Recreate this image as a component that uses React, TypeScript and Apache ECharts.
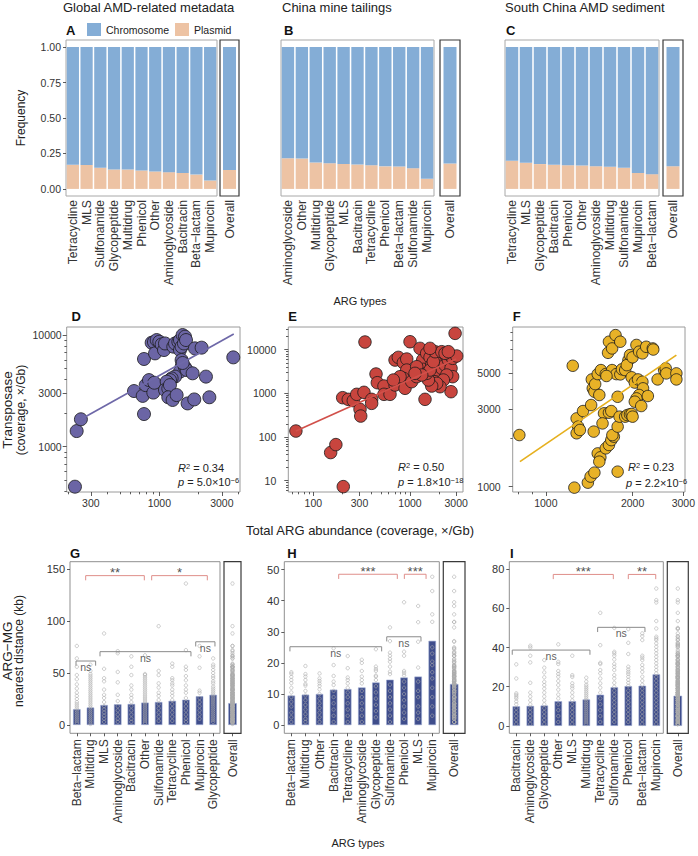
import React, { useEffect, useRef } from 'react';
import * as echarts from 'echarts';

const FONT = 'Liberation Sans, Arial, Helvetica, sans-serif';
const BLUE = '#84ADD6';
const PINK = '#EDC3A4';
const NAVY = '#3F4D8B';
const MINUS = '\u2212';

// ---------- Top row: fraction of ARGs on plasmids ----------
const FREQ_TICKS = [0, 0.25, 0.5, 0.75, 1];
const A_CATS = ['Tetracycline', 'MLS', 'Sulfonamide', 'Glycopeptide', 'Multidrug', 'Phenicol', 'Other', 'Aminoglycoside', 'Bacitracin', 'Beta' + MINUS + 'lactam', 'Mupirocin'];
const A_PLASMID = [0.170, 0.169, 0.149, 0.137, 0.137, 0.130, 0.123, 0.118, 0.113, 0.101, 0.059];
const A_OVERALL = 0.134;
const B_CATS = ['Aminoglycoside', 'Other', 'Multidrug', 'Glycopeptide', 'MLS', 'Bacitracin', 'Tetracycline', 'Phenicol', 'Beta' + MINUS + 'lactam', 'Sulfonamide', 'Mupirocin'];
const B_PLASMID = [0.216, 0.214, 0.186, 0.181, 0.176, 0.172, 0.167, 0.159, 0.158, 0.146, 0.071];
const B_OVERALL = 0.179;
const C_CATS = ['Tetracycline', 'MLS', 'Glycopeptide', 'Bacitracin', 'Phenicol', 'Other', 'Aminoglycoside', 'Multidrug', 'Sulfonamide', 'Mupirocin', 'Beta' + MINUS + 'lactam'];
const C_PLASMID = [0.198, 0.184, 0.175, 0.170, 0.167, 0.165, 0.160, 0.156, 0.149, 0.113, 0.104];
const C_OVERALL = 0.160;

// ---------- Middle row: transposase vs total ARG abundance ----------
const D_X_TICKS = [300, 1000, 3000];
const D_Y_TICKS = [1000, 3000, 10000];
const D_POINTS = [[227, 438], [234, 1380], [252, 1760], [764, 6100], [641, 3150], [747, 2850], [764, 1960], [787, 3560], [834, 3950], [900, 3050], [916, 3740], [874, 8530], [910, 8650], [955, 9020], [927, 6850], [1000, 8710], [1042, 8240], [1086, 7340], [1105, 8410], [1279, 7870], [1318, 8410], [1397, 8710], [1438, 9020], [1507, 10000], [1571, 9660], [1438, 7340], [1480, 7870], [1542, 8410], [1599, 9020], [1480, 5970], [1480, 5200], [1438, 4700], [1571, 5130], [1318, 4240], [1242, 4090], [1206, 3950], [1171, 3690], [1138, 3820], [1105, 3220], [1171, 3320], [1206, 3560], [1171, 2770], [1264, 2620], [1356, 2900], [1618, 4860], [1796, 4540], [1871, 7600], [2104, 7710], [1644, 2440], [1849, 2650], [2270, 4240], [2410, 2770], [3670, 6310], [1507, 5620]];
const D_FIT = [[252, 1760], [3700, 10200]];
const E_X_TICKS = [100, 300, 1000, 3000];
const E_Y_TICKS = [10, 100, 1000, 10000];
const E_POINTS = [[66, 137], [151, 44], [171, 67], [204, 7.3], [342, 15000], [201, 795], [230, 729], [259, 680], [281, 950], [304, 430], [309, 302], [334, 1054], [401, 729], [401, 590], [445, 2775], [459, 1753], [538, 1472], [538, 949], [621, 949], [700, 1553], [700, 5800], [757, 6670], [853, 5040], [925, 6110], [925, 3420], [853, 2210], [888, 1303], [1000, 15230], [1040, 1850], [1172, 2410], [1269, 10720], [1429, 729], [1352, 5800], [1374, 3545], [1487, 8240], [1610, 6670], [1675, 4460], [1743, 3135], [1771, 2410], [1815, 1850], [1888, 5800], [1964, 7550], [2043, 4860], [2127, 3740], [2212, 6340], [2302, 4460], [2395, 6920], [2492, 5800], [2593, 7550], [2655, 3740], [2761, 6340], [3039, 7170], [2925, 23660], [2761, 2410], [2655, 1092], [2395, 2630], [2212, 2020], [2043, 1421], [1888, 1694], [1675, 1472], [1550, 2020], [1487, 2870], [1610, 3420], [1743, 5310], [1815, 9000], [2127, 9000], [2302, 8240], [2492, 9000], [1610, 10720], [1172, 4080], [1321, 2630], [1126, 2870], [788, 2410], [673, 2020]];
const E_FIT = [[66, 137], [3000, 6100]];
const F_X_TICKS = [1000, 2000, 3000];
const F_Y_TICKS = [1000, 3000, 5000];
const F_POINTS = [[809, 2080], [1240, 5560], [1256, 986], [1279, 2635], [1295, 2343], [1279, 2133], [1313, 2235], [1346, 2924], [1399, 1058], [1430, 1153], [1474, 1220], [1436, 3185], [1444, 4580], [1455, 4035], [1474, 3848], [1483, 4286], [1533, 3672], [1466, 2184], [1514, 1603], [1546, 1516], [1533, 1426], [1514, 4940], [1553, 5230], [1614, 4940], [1614, 1722], [1656, 1806], [1687, 1936], [1722, 2032], [1702, 2080], [1592, 2830], [1573, 2454], [1656, 2857], [1687, 2924], [1656, 7820], [1644, 6680], [1698, 7110], [1745, 8590], [1813, 7820], [1698, 5230], [1757, 4940], [1813, 4920], [1837, 5290], [1885, 5230], [1775, 3580], [1775, 2343], [1775, 1237], [1802, 2700], [1885, 2700], [1918, 2762], [1959, 2790], [1985, 2806], [1935, 6024], [1959, 6470], [1910, 5610], [1985, 4720], [2000, 6270], [2063, 7470], [2107, 6790], [2163, 6630], [2230, 7280], [2350, 7110], [2360, 7000], [2036, 4380], [2089, 4580], [2163, 4430], [2174, 4035], [2107, 3672], [2063, 3500], [2036, 3340], [2143, 3140], [2260, 3620], [2443, 4580], [2573, 5230], [2606, 5360], [2618, 4990], [2838, 4990], [2838, 4580], [1623, 4810], [2000, 2700]];
const F_FIT = [[813, 1426], [2838, 6470]];

// ---------- Bottom row: ARG–MG nearest distance ----------
const G_CATS = ['Beta' + MINUS + 'lactam', 'Multidrug', 'MLS', 'Aminoglycoside', 'Bacitracin', 'Other', 'Sulfonamide', 'Tetracycline', 'Phenicol', 'Mupirocin', 'Glycopeptide'];
const G_BARS = [15.2, 16.8, 19.2, 19.9, 20.2, 21.5, 22.1, 23.2, 24.3, 27.7, 29.0];
const G_OVERALL_BAR = 21.0;
const G_TICKS = [0, 50, 100, 150];
const G_POINTS = [
  [76, 64, 56, 48, 44, 39, 35, 31, 28, 25, 22, 20, 18, 16, 14, 12, 10, 8, 6, 4, 2],
  [58, 52, 49, 47, 45, 43, 41, 39, 37, 35, 33, 31, 29, 27, 25, 23, 21, 19, 17, 15, 13, 11, 9, 7, 5, 3, 1],
  [88, 54, 45, 42, 34, 29, 26, 22, 18, 15, 12, 9, 6, 3],
  [71, 69, 51, 41, 29, 23, 18, 14, 10, 6, 3],
  [66, 56, 48, 38, 34, 29, 26, 22, 18, 14, 10, 6, 3],
  [67, 49, 48, 46, 44, 42, 40, 38, 36, 34, 32, 30, 28, 26, 24, 22, 20, 18, 16, 14, 12, 10, 8, 6, 4, 2],
  [95, 52, 48, 40, 36, 31, 28, 24, 20, 16, 12, 8, 4],
  [59, 56, 45, 43, 40, 38, 34, 31, 28, 24, 20, 16, 12, 8, 4],
  [136, 72, 56, 53, 47, 43, 38, 34, 31, 26, 22, 18, 14, 10, 6, 3],
  [76, 66, 55, 33, 31, 26, 22, 18, 14, 10, 6],
  [64, 58, 56, 53, 50, 47, 45, 42, 40, 37, 35, 33, 31, 29, 27, 25, 23, 21, 19, 17, 15, 13, 11, 9, 7, 5, 3],
];
// [from index, to index, height, label]
const G_BRACKETS: [number, number, number, string][] = [
  [0.65, 4.95, 143.6, '**'], [5.49, 9.57, 143.6, '*'],
  [-0.06, 1.38, 61.5, 'ns'], [1.7, 8.37, 70.5, 'ns'], [8.72, 10.13, 80, 'ns'],
];

const H_CATS = ['Beta' + MINUS + 'lactam', 'Multidrug', 'Other', 'Bacitracin', 'Tetracycline', 'Aminoglycoside', 'Glycopeptide', 'Sulfonamide', 'Phenicol', 'MLS', 'Mupirocin'];
const H_BARS = [9.5, 9.8, 10.0, 11.4, 11.6, 12.1, 13.7, 14.6, 15.3, 15.6, 27.1];
const H_OVERALL_BAR = 13.2;
const H_TICKS = [0, 10, 20, 30, 40, 50];
const H_POINTS = [
  [17, 16.5, 15.5, 14.5, 13.5, 12, 10.5, 9, 7.5, 6, 4, 2.5, 1],
  [19, 16.4, 15.6, 14.5, 13.2, 12.7, 11, 9.5, 8, 6.5, 5, 3.5, 2, 1],
  [16.6, 15, 14.2, 13.4, 12.6, 11.5, 10, 8.5, 7, 5.5, 4, 2.5, 1],
  [24.7, 19.3, 15.8, 14, 12.9, 11, 9, 7, 5, 3, 1],
  [22.2, 18.3, 15.3, 14.5, 13.4, 12, 10.5, 9, 7, 5, 3, 1],
  [21, 20, 17.4, 15.6, 14.5, 13.4, 11, 9, 7, 5, 3, 1],
  [24.4, 18.8, 18, 17.4, 15.9, 15.6, 14.5, 12.5, 10.5, 8.5, 6.5, 4.5, 2.5],
  [31.4, 27, 23.3, 22.3, 21.3, 20.4, 18.8, 17.2, 16.4, 13, 11, 9, 7, 5, 3, 1],
  [39.5, 23.6, 22.3, 17.4, 16.8, 16, 14, 12, 10, 8, 6, 4, 2],
  [38.3, 33.1, 26.8, 18.5, 14, 11, 9, 6, 4, 2],
  [47.7, 43.1, 35.6, 33.2, 25, 23, 20.4, 19.3, 17, 15, 12, 9, 6, 3],
];
const H_BRACKETS: [number, number, number, string][] = [
  [3.36, 7.52, 48.5, '***'], [8.02, 9.56, 48.5, '***'],
  [-0.1, 6.41, 25.2, 'ns'], [6.77, 9.2, 28.4, 'ns'],
];

const I_CATS = ['Bacitracin', 'Aminoglycoside', 'Glycopeptide', 'Other', 'MLS', 'Multidrug', 'Tetracycline', 'Sulfonamide', 'Phenicol', 'Beta' + MINUS + 'lactam', 'Mupirocin'];
const I_BARS = [10.0, 10.2, 10.4, 12.6, 12.6, 13.5, 15.9, 19.7, 20.3, 20.5, 26.3];
const I_OVERALL_BAR = 15.4;
const I_TICKS = [0, 20, 40, 60, 80];
const I_POINTS = [
  [31.4, 24.2, 16.6, 15.8, 14.9, 14, 12.5, 11, 9, 7, 5, 3, 1],
  [40.9, 40, 35.8, 32.4, 22, 17, 15, 13, 11, 9, 7, 5, 3, 1],
  [33.6, 29.7, 27.3, 24.8, 22.5, 20.8, 19, 17, 15, 13, 11, 9, 7, 5, 3, 1],
  [41.6, 32.7, 31.6, 28, 26.5, 25.1, 22.9, 20.8, 18.5, 16, 14, 11, 8, 5, 2],
  [35.8, 25.9, 25, 21.7, 20.3, 19.1, 17, 15, 13, 11, 9, 7, 5, 3, 1],
  [24.6, 22.6, 21, 20, 19, 18, 17, 16, 15, 14, 13, 12, 11, 10, 9, 8, 7, 6, 5, 4, 3, 2, 1],
  [57.7, 41.2, 32.2, 31.6, 28.5, 26.8, 24.2, 21.7, 19.5, 17, 14, 11, 8, 5, 2],
  [50, 37.8, 37, 35.8, 33.9, 31.6, 30.2, 28.5, 25.9, 24.2, 22, 20, 18, 16, 14, 12, 10, 8, 6, 4, 2],
  [49.4, 42.4, 36.7, 30.2, 28.8, 27.6, 26.5, 25.1, 23.5, 22, 20.5, 18, 16, 14, 12, 10, 8, 6, 4, 2],
  [47.2, 45.8, 43.8, 35.8, 34.8, 33.6, 31.1, 29.4, 27.6, 25.1, 23, 21, 19, 17, 15, 13, 11, 9, 7, 5, 3, 1],
  [70.1, 64.2, 63, 53.5, 49.7, 45.5, 44.6, 43.8, 42.1, 40.4, 38.7, 37, 35.3, 33.6, 31.9, 30.2, 28.5, 26.8, 25, 23, 21, 19, 17, 15, 13, 11, 9, 7, 5, 3, 1],
];
const I_BRACKETS: [number, number, number, string][] = [
  [2.64, 6.93, 77.3, '***'], [8.0, 9.96, 77.3, '**'],
  [-0.29, 5.26, 38.7, 'ns'], [5.81, 9.19, 50.3, 'ns'],
];

function logMinor(min: number, max: number, majors: number[]) {
  const out: number[] = [];
  for (let k = Math.floor(min) - 1; k <= Math.ceil(max); k++) {
    for (let m = 1; m <= 9; m++) {
      const v = Math.log10(m) + k;
      if (v >= min && v <= max && !majors.some((t) => Math.abs(Math.log10(t) - v) < 1e-6)) out.push(v);
    }
  }
  return out;
}

function buildOption() {
  const grid: any[] = [];
  const xAxis: any[] = [];
  const yAxis: any[] = [];
  const series: any[] = [];
  const graphic: any[] = [];

  const addGrid = (r: number[], border: string, bw = 1) =>
    grid.push({ left: r[0], top: r[1], width: r[2], height: r[3], show: true, borderColor: border, borderWidth: bw, backgroundColor: 'rgba(0,0,0,0)' }) - 1;

  const txt = (x: number, y: number, text: string, o: any = {}) => {
    graphic.push({
      type: 'text', x, y, rotation: o.rot || 0, silent: true,
      style: {
        text, fill: o.color || '#222', fontSize: o.size || 11, fontFamily: FONT, fontWeight: o.weight || 'normal',
        align: o.align || 'left', verticalAlign: 'middle', textAlign: o.align || 'left', textVerticalAlign: 'middle',
        rich: o.rich,
      },
    });
  };

  const catX = (gi: number, data: string[], margin: number, size: number, ticks: boolean) =>
    xAxis.push({
      type: 'category', gridIndex: gi, data, position: 'bottom',
      axisLine: { show: false, onZero: false },
      axisTick: { show: ticks, alignWithLabel: true, interval: 0, length: 3, lineStyle: { color: '#333', width: 0.8 } },
      axisLabel: { interval: 0, rotate: 90, margin, fontSize: size, color: '#333', fontFamily: FONT },
      splitLine: { show: false },
    }) - 1;

  const valY = (gi: number, min: number, max: number, ticks: number[], show: boolean, fmt: (v: number) => string, size: number) =>
    yAxis.push({
      type: 'value', gridIndex: gi, min, max, position: 'left',
      splitLine: { show: false },
      axisLine: { show: false, onZero: false },
      axisTick: { show, customValues: ticks, length: 3, lineStyle: { color: '#333', width: 0.8 } },
      axisLabel: { show, customValues: ticks, formatter: fmt, fontSize: size, color: '#333', margin: 5, fontFamily: FONT },
    }) - 1;

  // ---- top row
  const topPanel = (cats: string[], plasmid: number[], overall: number, main: number[], ov: number[], showY: boolean) => {
    const g1 = addGrid(main, '#a8a8a8');
    const x1 = catX(g1, cats, 4, 12.2, false);
    const y1 = valY(g1, -0.05, 1.05, FREQ_TICKS, showY, (v) => v.toFixed(2), 10.5);
    series.push({ type: 'bar', name: 'Plasmid', xAxisIndex: x1, yAxisIndex: y1, stack: 's' + g1, data: plasmid, barCategoryGap: '11%', itemStyle: { color: PINK } });
    series.push({ type: 'bar', name: 'Chromosome', xAxisIndex: x1, yAxisIndex: y1, stack: 's' + g1, data: plasmid.map((p) => +(1 - p).toFixed(3)), barCategoryGap: '11%', itemStyle: { color: BLUE } });
    const g2 = addGrid(ov, '#3a3a3a', 1.2);
    const x2 = catX(g2, ['Overall'], 4, 12.2, false);
    const y2 = valY(g2, -0.05, 1.05, FREQ_TICKS, false, (v) => v.toFixed(2), 10.5);
    series.push({ type: 'bar', name: 'Plasmid', xAxisIndex: x2, yAxisIndex: y2, stack: 's' + g2, data: [overall], barWidth: 13, itemStyle: { color: PINK } });
    series.push({ type: 'bar', name: 'Chromosome', xAxisIndex: x2, yAxisIndex: y2, stack: 's' + g2, data: [+(1 - overall).toFixed(3)], barWidth: 13, itemStyle: { color: BLUE } });
  };
  topPanel(A_CATS, A_PLASMID, A_OVERALL, [66, 40, 151, 156], [220, 40, 19, 156], true);
  topPanel(B_CATS, B_PLASMID, B_OVERALL, [281, 40, 153, 156], [440, 40, 20, 156], false);
  topPanel(C_CATS, C_PLASMID, C_OVERALL, [505, 40, 154, 156], [663, 40, 20, 156], false);

  // ---- middle row
  const scatterPanel = (p: any) => {
    const g = addGrid(p.rect, '#9a9a9a');
    const fmt = (v: number) => String(Math.round(Math.pow(10, v)));
    const xMaj = p.xTicks.map((t: number) => Math.log10(t));
    const yMaj = p.yTicks.map((t: number) => Math.log10(t));
    const tickStyle = { color: '#333', width: 0.8 };
    const xa = xAxis.push({
      type: 'value', gridIndex: g, min: p.xr[0], max: p.xr[1], position: 'bottom', splitLine: { show: false },
      axisLine: { show: false, onZero: false },
      axisTick: { customValues: xMaj, length: 4, lineStyle: tickStyle },
      axisLabel: { customValues: xMaj, formatter: fmt, fontSize: 10.5, color: '#333', margin: 5, fontFamily: FONT },
    }) - 1;
    xAxis.push({
      type: 'value', gridIndex: g, min: p.xr[0], max: p.xr[1], position: 'bottom', splitLine: { show: false },
      axisLine: { show: false, onZero: false },
      axisTick: { customValues: logMinor(p.xr[0], p.xr[1], p.xTicks), length: 2.3, lineStyle: tickStyle },
      axisLabel: { show: false },
    });
    const ya = yAxis.push({
      type: 'value', gridIndex: g, min: p.yr[0], max: p.yr[1], position: 'left', splitLine: { show: false },
      axisLine: { show: false, onZero: false },
      axisTick: { customValues: yMaj, length: 4, lineStyle: tickStyle },
      axisLabel: { customValues: yMaj, formatter: fmt, fontSize: 10.5, color: '#333', margin: p.ym, fontFamily: FONT },
    }) - 1;
    yAxis.push({
      type: 'value', gridIndex: g, min: p.yr[0], max: p.yr[1], position: 'left', splitLine: { show: false },
      axisLine: { show: false, onZero: false },
      axisTick: { customValues: logMinor(p.yr[0], p.yr[1], p.yTicks), length: 2.3, lineStyle: tickStyle },
      axisLabel: { show: false },
    });
    series.push({
      type: 'line', xAxisIndex: xa, yAxisIndex: ya, silent: true, symbol: 'none',
      data: p.fit.map((d: number[]) => [Math.log10(d[0]), Math.log10(d[1])]),
      lineStyle: { color: p.line, width: 1.7 },
    });
    series.push({
      type: 'scatter', xAxisIndex: xa, yAxisIndex: ya, symbolSize: p.size,
      data: p.points.map((d: number[]) => [Math.log10(d[0]), Math.log10(d[1])]),
      itemStyle: { color: p.color, borderColor: '#1a1a1a', borderWidth: 0.8, opacity: 1 },
    });
    const rich = { i: { fontStyle: 'italic', fontSize: 11, fontFamily: FONT, fill: '#222' }, s: { fontSize: 7.5, verticalAlign: 'top', fontFamily: FONT, fill: '#222' } };
    txt(p.stat[0], p.stat[1], '{i|R}{s|2} = ' + p.r2, { rich });
    txt(p.stat[2], p.stat[3], '{i|p} = ' + p.pv[0] + '×10{s|' + p.pv[1] + '}', { rich });
  };
  scatterPanel({ rect: [66.7, 327, 173.3, 165], xr: [2.293, 3.616], yr: [2.594, 4.072], xTicks: D_X_TICKS, yTicks: D_Y_TICKS, points: D_POINTS, fit: D_FIT, color: '#6B65A5', line: '#6E68A8', size: 13, ym: 5, stat: [178, 468, 178, 482], r2: '0.34', pv: ['5.0', MINUS + '6'] });
  scatterPanel({ rect: [288.3, 327, 174.7, 165], xr: [1.741, 3.548], yr: [0.74, 4.52], xTicks: E_X_TICKS, yTicks: E_Y_TICKS, points: E_POINTS, fit: E_FIT, color: '#C8453E', line: '#D1504A', size: 12.5, ym: 12, stat: [398, 467, 398, 482], r2: '0.50', pv: ['1.8', MINUS + '18'] });
  scatterPanel({ rect: [512.7, 327, 177.3, 165], xr: [2.885, 3.483], yr: [2.967, 3.984], xTicks: F_X_TICKS, yTicks: F_Y_TICKS, points: F_POINTS, fit: F_FIT, color: '#E8B227', line: '#E6B01F', size: 11.5, ym: 12, stat: [628, 467, 626, 483], r2: '0.23', pv: ['2.2', MINUS + '6'] });

  // ---- bottom row
  const ptStyle = { color: 'rgba(0,0,0,0)', borderColor: '#ABABAB', borderWidth: 0.75 };
  const distPanel = (p: any) => {
    const n = p.cats.length;
    const g = addGrid(p.main, '#8f8f8f');
    const xc = catX(g, p.cats, 6, 12, true);
    const xv = xAxis.push({ type: 'value', gridIndex: g, min: -0.5, max: n - 0.5, show: false, position: 'bottom', axisLine: { onZero: false } }) - 1;
    const ya = valY(g, p.yr[0], p.yr[1], p.ticks, true, (v) => String(v), 11);
    series.push({ type: 'bar', xAxisIndex: xc, yAxisIndex: ya, data: p.bars, barWidth: 7.5, itemStyle: { color: NAVY, borderColor: '#9BA7D0', borderWidth: 0.6 } });
    series.push({
      type: 'scatter', xAxisIndex: xc, yAxisIndex: ya, symbol: 'circle', symbolSize: 3.4, silent: true,
      data: p.points.flatMap((vals: number[], i: number) => vals.map((v) => [i, v])), itemStyle: ptStyle,
    });
    p.brackets.forEach((b: [number, number, number, string]) => {
      const stars = b[3] !== 'ns';
      series.push({
        type: 'line', xAxisIndex: xv, yAxisIndex: ya, silent: true, symbol: 'none',
        data: [[b[0], b[2] - p.tip], [b[0], b[2]], [b[1], b[2]], [b[1], b[2] - p.tip]],
        lineStyle: { color: stars ? '#DF8E8A' : '#8A8A8A', width: 1 },
      });
    });
    series.push({
      type: 'scatter', xAxisIndex: xv, yAxisIndex: ya, silent: true, symbolSize: 1, itemStyle: { color: 'rgba(0,0,0,0)' },
      data: p.brackets.map((b: [number, number, number, string]) => ({
        value: [(b[0] + b[1]) / 2, b[2]],
        label: b[3] === 'ns'
          ? { formatter: 'ns', offset: [0, 6], fontSize: 10.5, color: '#333' }
          : { formatter: b[3], offset: [0, -3], fontSize: 13, color: '#222' },
      })),
      label: { show: true, position: 'inside', fontFamily: FONT },
    });
    // overall
    const g2 = addGrid(p.ov, '#3a3a3a', 1.2);
    const x2 = catX(g2, ['Overall'], 6, 12, true);
    const y2 = valY(g2, p.yr[0], p.yr[1], p.ticks, false, (v) => String(v), 11);
    series.push({ type: 'bar', xAxisIndex: x2, yAxisIndex: y2, data: [p.overall], barWidth: 8.5, itemStyle: { color: NAVY, borderColor: '#9BA7D0', borderWidth: 0.6 } });
    series.push({
      type: 'scatter', xAxisIndex: x2, yAxisIndex: y2, symbol: 'circle', symbolSize: 3.4, silent: true,
      data: p.points.flatMap((vals: number[]) => vals.map((v) => [0, v])), itemStyle: ptStyle,
    });
  };
  distPanel({ cats: G_CATS, bars: G_BARS, points: G_POINTS, overall: G_OVERALL_BAR, brackets: G_BRACKETS, ticks: G_TICKS, yr: [-8, 157], tip: 4.5, main: [70, 561.7, 150, 171.6], ov: [224, 561.7, 17, 171.6] });
  distPanel({ cats: H_CATS, bars: H_BARS, points: H_POINTS, overall: H_OVERALL_BAR, brackets: H_BRACKETS, ticks: H_TICKS, yr: [-2.64, 52.54], tip: 1.5, main: [284.3, 561.7, 155, 171.6], ov: [443.3, 561.7, 21.7, 171.6] });
  distPanel({ cats: I_CATS, bars: I_BARS, points: I_POINTS, overall: I_OVERALL_BAR, brackets: I_BRACKETS, ticks: I_TICKS, yr: [-3.78, 83.8], tip: 2.4, main: [509.3, 561.7, 154, 171.6], ov: [667.3, 561.7, 21, 171.6] });

  // ---- texts
  txt(63, 7, 'Global AMD-related metadata', { size: 13 });
  txt(282, 7, 'China mine tailings', { size: 13 });
  txt(505, 7, 'South China AMD sediment', { size: 13 });
  const letters: [string, number, number][] = [['A', 66, 30], ['B', 284, 30], ['C', 506, 30], ['D', 71.5, 316], ['E', 288.3, 316], ['F', 512.7, 316], ['G', 70, 553], ['H', 287.3, 553], ['I', 510, 553]];
  letters.forEach(([l, x, y]) => txt(x, y, l, { size: 13, weight: 'bold', color: '#111' }));
  txt(21, 118, 'Frequency', { size: 12, rot: Math.PI / 2, align: 'center' });
  txt(360, 301, 'ARG types', { size: 11, align: 'center' });
  txt(7, 410, 'Transposase', { size: 13.5, rot: Math.PI / 2, align: 'center' });
  txt(20.5, 410, '(coverage, ×/Gb)', { size: 12, rot: Math.PI / 2, align: 'center' });
  txt(360, 530, 'Total ARG abundance (coverage, ×/Gb)', { size: 13, align: 'center' });
  txt(7, 651, 'ARG' + MINUS + 'MG', { size: 13.5, rot: Math.PI / 2, align: 'center' });
  txt(19, 651, 'nearest distance (kb)', { size: 12, rot: Math.PI / 2, align: 'center' });
  txt(358, 843, 'ARG types', { size: 11, align: 'center' });

  return {
    animation: false,
    backgroundColor: '#ffffff',
    textStyle: { fontFamily: FONT },
    legend: {
      data: ['Chromosome', 'Plasmid'], left: 87, top: 23, padding: 0, itemWidth: 14, itemHeight: 13, itemGap: 6,
      icon: 'rect', selectedMode: false, textStyle: { fontSize: 10.5, color: '#222', fontFamily: FONT },
    },
    grid, xAxis, yAxis, series, graphic,
  };
}

export default function App() {
  const ref = useRef<HTMLDivElement>(null);
  useEffect(() => {
    const chart = echarts.init(ref.current as HTMLDivElement, null, { renderer: 'svg' });
    chart.setOption(buildOption() as any);
    return () => chart.dispose();
  }, []);
  return <div ref={ref} style={{ position: 'absolute', left: 0, top: 0, width: 698, height: 856, background: '#fff' }} />;
}
